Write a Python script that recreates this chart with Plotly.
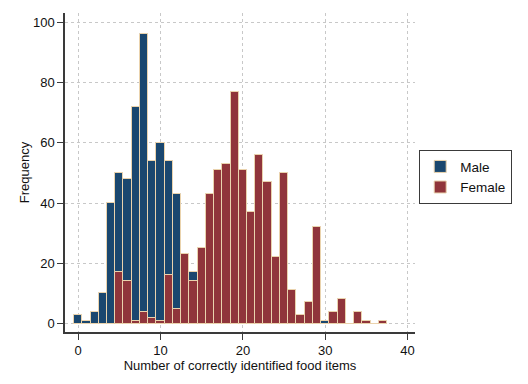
import plotly.graph_objects as go

bins = list(range(0, 38))
male = [3, 1, 4, 10, 40, 50, 48, 72, 96, 54, 60, 54, 43, 20, 17,
        0, 0, 0, 0, 0, 0, 0, 0, 0, 0, 0, 0, 0, 0, 0, 1,
        0, 0, 0, 0, 0, 0, 0]
female = [0, 0, 0, 0, 0, 17, 14, 1, 4, 2, 1, 16, 5, 23, 14,
          25, 43, 51, 53, 77, 51, 37, 56, 47, 22, 50, 11, 3, 7, 32, 0,
          4, 8, 0, 4, 1, 0, 1]

x_ticks = [0, 10, 20, 30, 40]
y_ticks = [0, 20, 40, 60, 80, 100]

outline = "#ead3ad"
fig = go.Figure()
fig.add_trace(go.Bar(x=bins, y=male, name="Male", width=1,
                     marker=dict(color="#1a476f", line=dict(color=outline, width=1))))
fig.add_trace(go.Bar(x=bins, y=female, name="Female", width=1,
                     marker=dict(color="#90353b", line=dict(color=outline, width=1))))

font = "Liberation Sans, Arial, sans-serif"
axis_common = dict(
    automargin=False,
    showline=True, linecolor="#3a3a3a", linewidth=1.5,
    ticks="outside", ticklen=6, tickwidth=1.2, tickcolor="#3a3a3a",
    showgrid=True, gridcolor="#c8c8c8", griddash="dot", gridwidth=1,
    zeroline=False, tickfont=dict(family=font, size=13, color="#111"),
)
# page has an 8px body margin, so the figure is 520x376 and offsets are compensated
fig.update_layout(
    template="none",
    width=520, height=376,
    margin=dict(l=57, r=113, t=5, b=52, autoexpand=False),
    paper_bgcolor="white", plot_bgcolor="white",
    barmode="overlay", bargap=0,
    font=dict(family=font, size=13, color="#111"),
    xaxis=dict(range=[-1.6, 40.9], tickvals=x_ticks,
               title=dict(text="Number of correctly identified food items",
                          font=dict(family=font, size=13), standoff=0),
               **axis_common),
    yaxis=dict(range=[-2.8, 103.1], tickvals=y_ticks,
               title=dict(text="Frequency", font=dict(family=font, size=13), standoff=0),
               **axis_common),
    legend=dict(x=1.012, y=0.57, xanchor="left", yanchor="top",
                bordercolor="#3a3a3a", borderwidth=1, bgcolor="white",
                font=dict(family=font, size=13.5), tracegroupgap=0,
                itemwidth=30),
    showlegend=True,
)
fig.write_html("out.html")
